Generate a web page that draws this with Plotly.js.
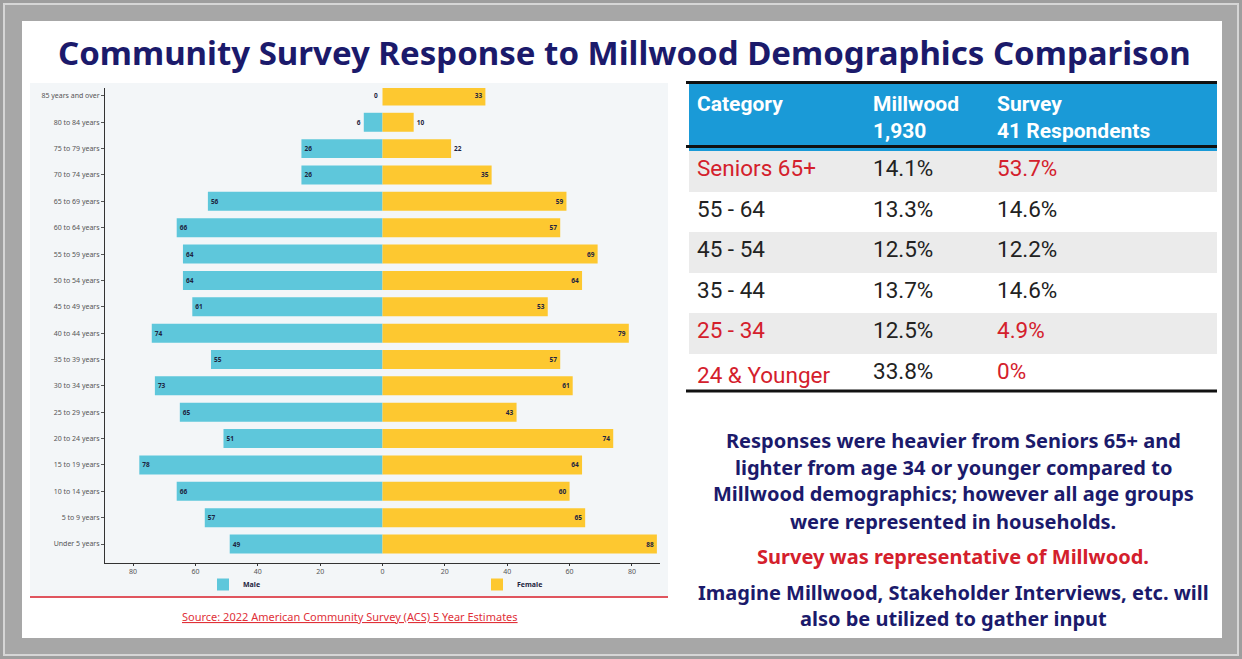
<!DOCTYPE html>
<html>
<head>
<meta charset="utf-8">
<script src="https://cdn.plot.ly/plotly-3.0.1.min.js"></script>
<style>
html,body{margin:0;padding:0;background:#a0a0a0;}
#chart{width:1242px;height:659px;}
</style>
</head>
<body>
<div id="chart"></div>
<script>
// ---------- data ----------
const ageGroups = ["Under 5 years","5 to 9 years","10 to 14 years","15 to 19 years","20 to 24 years","25 to 29 years","30 to 34 years","35 to 39 years","40 to 44 years","45 to 49 years","50 to 54 years","55 to 59 years","60 to 64 years","65 to 69 years","70 to 74 years","75 to 79 years","80 to 84 years","85 years and over"];
const maleValues   = [49,57,66,78,51,65,73,55,74,61,64,64,66,56,26,26,6,0];
const femaleValues = [88,65,60,64,74,43,61,57,79,53,64,69,57,59,35,22,10,33];
const xTickVals = [-80,-60,-40,-20,0,20,40,60,80];
const xTickText = ["80","60","40","20","0","20","40","60","80"];

const tableHeader = ["<b>Category</b>","<b>Millwood</b><br><b>1,930</b>","<b>Survey</b><br><b>41 Respondents</b>"];
const tableCategory = ["Seniors 65+","55 - 64","45 - 54","35 - 44","25 - 34","24 & Younger"];
const tableMillwood = ["14.1%","13.3%","12.5%","13.7%","12.5%","33.8%"];
const tableSurvey   = ["53.7%","14.6%","12.2%","14.6%","4.9%","0%"];
const tableHighlight = [true,false,false,false,true,true];

const titleText = "Community Survey Response to Millwood Demographics Comparison";
const noteLines = ["Responses were heavier from Seniors 65+ and","lighter from age 34 or younger compared to","Millwood demographics; however all age groups","were represented in households."];
const keyLine = "Survey was representative of Millwood.";
const closingLines = ["Imagine Millwood, Stakeholder Interviews, etc. will","also be utilized to gather input"];
const sourceText = "Source: 2022 American Community Survey (ACS) 5 Year Estimates";

// ---------- helpers ----------
const W = 1242, H = 659;
const px = x => x / W;
const py = y => 1 - y / H;
const NAVY = "#1b1a6b", RED = "#d4202c", DARK = "#222222";
const MALE_C = "#5ec7db", FEMALE_C = "#fdc830";
const labelFont = {family: "Noto Sans", size: 6.5, color: "#1d2440", weight: 700};

const traces = [
  {
    type: "bar", orientation: "h", name: "Male",
    y: ageGroups, x: maleValues.map(v => -v),
    text: maleValues.map(v => v === 0 ? "" : String(v)),
    textposition: maleValues.map(v => v < 10 ? "outside" : "inside"),
    insidetextanchor: "end",
    textfont: labelFont,
    marker: {color: MALE_C},
    cliponaxis: false, hoverinfo: "skip"
  },
  {
    type: "bar", orientation: "h", name: "Female",
    y: ageGroups, x: femaleValues,
    text: femaleValues.map(String),
    textposition: femaleValues.map(v => v < 25 ? "outside" : "inside"),
    insidetextanchor: "end",
    textfont: labelFont,
    marker: {color: FEMALE_C},
    cliponaxis: false, hoverinfo: "skip"
  },
  {
    type: "table",
    domain: {x: [px(689), px(1217)], y: [py(392), py(84)]},
    columnwidth: [176, 124, 228],
    header: {
      values: tableHeader,
      fill: {color: "#1a9ad7"},
      font: {family: "Roboto", size: 21, color: "#ffffff"},
      align: "left", height: 62,
      line: {width: 0}
    },
    cells: {
      values: [tableCategory, tableMillwood, tableSurvey],
      fill: {color: [tableCategory.map((_, i) => i % 2 === 0 ? "#ebebeb" : "#ffffff")]},
      font: {
        family: "Roboto", size: 22.5,
        color: [
          tableHighlight.map(h => h ? RED : DARK),
          tableHighlight.map(() => DARK),
          tableHighlight.map(h => h ? RED : DARK)
        ]
      },
      align: "left", height: 40.5,
      line: {width: 0}
    }
  }
];

const annotations = [
  {text: titleText, x: px(624), y: py(52), xref: "paper", yref: "paper", showarrow: false,
   xanchor: "center", yanchor: "middle", font: {family: "Noto Sans", size: 33, color: NAVY, weight: 700}},
  {text: "<u>" + sourceText + "</u>", x: px(350), y: py(616), xref: "paper", yref: "paper", showarrow: false,
   xanchor: "center", yanchor: "middle", font: {family: "Noto Sans", size: 11, color: "#e03038"}}
];
// zero-valued male bar label (drawn at its data position)
maleValues.forEach((v, i) => {
  if (v === 0) annotations.push({
    text: "0", x: -v, y: ageGroups[i], xref: "x", yref: "y", showarrow: false,
    xanchor: "right", xshift: -3, font: labelFont
  });
});
noteLines.forEach((t, i) => annotations.push({
  text: t, x: px(953), y: py(440 + i * 27), xref: "paper", yref: "paper", showarrow: false,
  xanchor: "center", yanchor: "middle", font: {family: "Noto Sans", size: 20, color: NAVY, weight: 700}
}));
annotations.push({text: keyLine, x: px(953), y: py(556), xref: "paper", yref: "paper", showarrow: false,
  xanchor: "center", yanchor: "middle", font: {family: "Noto Sans", size: 20, color: RED, weight: 700}});
closingLines.forEach((t, i) => annotations.push({
  text: t, x: px(953), y: py(592 + i * 26), xref: "paper", yref: "paper", showarrow: false,
  xanchor: "center", yanchor: "middle", font: {family: "Noto Sans", size: 20, color: NAVY, weight: 700}
}));

const shapes = [
  {type: "rect", xref: "paper", yref: "paper", x0: px(4), x1: px(1238), y0: py(4), y1: py(655),
   line: {color: "#d6d6d6", width: 2}, fillcolor: "#a7a7a7", layer: "below"},
  {type: "rect", xref: "paper", yref: "paper", x0: px(22), x1: px(1222), y0: py(21), y1: py(638),
   line: {width: 0}, fillcolor: "#ffffff", layer: "below"},
  {type: "rect", xref: "paper", yref: "paper", x0: px(30), x1: px(668), y0: py(83), y1: py(596),
   line: {width: 0}, fillcolor: "#f3f6f8", layer: "below"},
  {type: "line", xref: "paper", yref: "paper", x0: px(30), x1: px(668), y0: py(597), y1: py(597),
   line: {color: "#e0555e", width: 2}},
  {type: "line", xref: "paper", yref: "paper", x0: px(686), x1: px(1217), y0: py(82.5), y1: py(82.5),
   line: {color: "#111111", width: 3}},
  {type: "line", xref: "paper", yref: "paper", x0: px(686), x1: px(1217), y0: py(146.5), y1: py(146.5),
   line: {color: "#111111", width: 3}},
  {type: "line", xref: "paper", yref: "paper", x0: px(686), x1: px(1217), y0: py(391), y1: py(391),
   line: {color: "#111111", width: 3}}
];

const layout = {
  width: W, height: H,
  margin: {l: 0, r: 0, t: 0, b: 0, pad: 0},
  paper_bgcolor: "#9e9e9e",
  plot_bgcolor: "rgba(0,0,0,0)",
  barmode: "relative",
  bargap: 0.28,
  showlegend: true,
  legend: {
    orientation: "h", x: px(203), y: py(570), xanchor: "left", yanchor: "top",
    entrywidth: 229, entrywidthmode: "pixels",
    font: {family: "Noto Sans", size: 7, color: "#1d2440", weight: 700},
    bgcolor: "rgba(0,0,0,0)", itemclick: false
  },
  xaxis: {
    domain: [px(105), px(660)], range: [-89, 89],
    tickvals: xTickVals, ticktext: xTickText,
    showgrid: false, zeroline: false,
    showline: true, linecolor: "#333333", linewidth: 1,
    ticks: "outside", ticklen: 2, tickcolor: "#333333",
    tickfont: {family: "Noto Sans", size: 7, color: "#555555"},
    fixedrange: true
  },
  yaxis: {
    domain: [py(563), py(88)], range: [-0.72, 17.3],
    type: "category",
    showgrid: false, zeroline: false,
    showline: true, linecolor: "#333333", linewidth: 1,
    ticks: "outside", ticklen: 3, tickcolor: "#555555",
    tickfont: {family: "Noto Sans", size: 7, color: "#555555"},
    fixedrange: true
  },
  shapes: shapes,
  annotations: annotations
};

Plotly.newPlot("chart", traces, layout, {displayModeBar: false, staticPlot: true});
</script>
</body>
</html>
